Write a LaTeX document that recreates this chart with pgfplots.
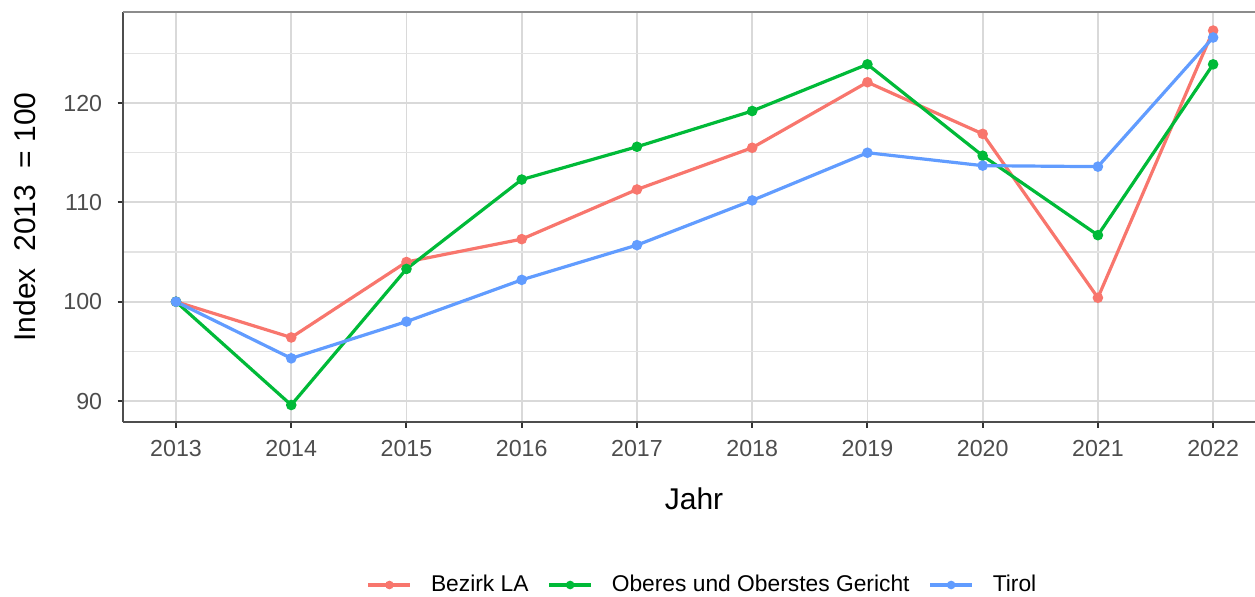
\documentclass[border=0pt]{standalone}
\usepackage{fontspec}
\setmainfont{Liberation Sans}
\usepackage{pgfplots}
\pgfplotsset{compat=1.18}
\definecolor{cR}{HTML}{F8766D}
\definecolor{cG}{HTML}{00BA38}
\definecolor{cB}{HTML}{619CFF}
\definecolor{gridmaj}{HTML}{D9D9D9}
\definecolor{gridmin}{HTML}{E3E3E3}
\definecolor{ticktxt}{HTML}{4D4D4D}
\definecolor{axline}{HTML}{4D4D4D}
\begin{document}
\begin{tikzpicture}
\begin{axis}[
  scale only axis, width=571bp, height=205bp,
  xmin=2012.54, xmax=2022.45, ymin=87.89, ymax=129.17,
  xtick={2013,2014,2015,2016,2017,2018,2019,2020,2021,2022},
  ytick={90,100,110,120}, minor ytick={95,105,115,125},
  /pgf/number format/assume math mode=true,
  /pgf/number format/set thousands separator={},
  axis x line*=bottom, axis y line*=left,
  axis line style={axline, line width=1bp},
  tick align=outside, major tick length=2.75bp, minor tick length=0pt,
  tick style={color=black!80, line width=1bp},
  xmajorgrids, ymajorgrids, yminorgrids,
  major grid style={gridmaj, line width=0.9bp},
  minor grid style={gridmin, line width=0.7bp},
  ticklabel style={font=\fontsize{11.6bp}{13bp}\selectfont, text=ticktxt, inner sep=0pt},
  yticklabel style={anchor=east, xshift=-7.5bp},
  xticklabel style={anchor=north, yshift=-6.25bp},
  clip=false,
  legend columns=3,
  legend style={at={(rel axis cs:0.5066,0)}, anchor=center, yshift=-81.5bp,
    draw=none, fill=none, font=\fontsize{11.4bp}{13bp}\selectfont,
    column sep=9.5bp, nodes={inner sep=0pt}},
  legend image code/.code={\draw[line width=1.6bp] (0bp,0bp) -- (21bp,0bp); \fill (10.5bp,0bp) circle (1.3bp);},
]
\draw[color=black!45, line width=1bp] (rel axis cs:0,1) -- (rel axis cs:1,1);
\addplot[cR, line width=1.6bp, mark=*, mark size=1.8bp] coordinates {
(2013,100.0) (2014,96.4) (2015,104.0) (2016,106.3) (2017,111.3) (2018,115.5) (2019,122.1) (2020,116.9) (2021,100.4) (2022,127.3)};
\addlegendentry{Bezirk LA}
\addplot[cG, line width=1.6bp, mark=*, mark size=1.8bp] coordinates {
(2013,100.0) (2014,89.6) (2015,103.3) (2016,112.3) (2017,115.6) (2018,119.2) (2019,123.9) (2020,114.7) (2021,106.7) (2022,123.9)};
\addlegendentry{Oberes und Oberstes Gericht}
\addplot[cB, line width=1.6bp, mark=*, mark size=1.8bp] coordinates {
(2013,100.0) (2014,94.3) (2015,98.0) (2016,102.2) (2017,105.7) (2018,110.2) (2019,115.0) (2020,113.7) (2021,113.6) (2022,126.6)};
\addlegendentry{Tirol}
\node[xshift=-55bp, rotate=90, anchor=north, inner sep=0pt, font=\fontsize{15bp}{18bp}\selectfont] at (rel axis cs:0,0.5) {Index\ \ 2013\ \ = 100};
\node[anchor=north, inner sep=0pt, font=\fontsize{15bp}{18bp}\selectfont, yshift=-32.5bp] at (rel axis cs:0.5,0) {Jahr};
\coordinate (O) at (rel axis cs:0,0);
\end{axis}
\pgfresetboundingbox
\path (O) ++(-61.5bp,-87.5bp) rectangle ++(627.5bp,298.5bp);
\end{tikzpicture}
\end{document}
